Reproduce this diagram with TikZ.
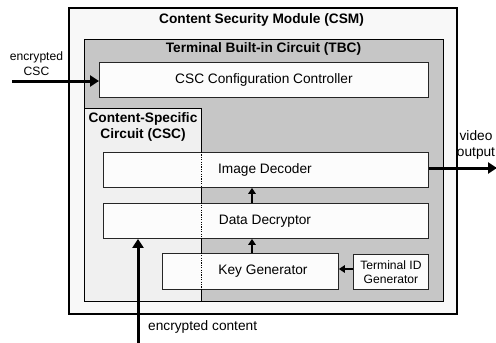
\documentclass[tikz,border=0pt]{standalone}
\usepackage{fontspec}
\setmainfont{Liberation Sans}
\usetikzlibrary{arrows.meta}
\definecolor{csmfill}{HTML}{F8F8F8}
\definecolor{tbcfill}{HTML}{C6C6C6}
\definecolor{cscfill}{HTML}{F0F0F0}
\definecolor{boxfill}{HTML}{FCFCFC}
\tikzset{
  region/.style={draw=black, anchor=north west, inner sep=0pt},
  blk/.style={draw=black!85, fill=boxfill, line width=0.9pt, anchor=north west, inner sep=0pt},
  txt/.style={font=\fontsize{13.7}{16}\selectfont, inner sep=0pt, align=center},
  smalltxt/.style={font=\fontsize{12.1}{14.5}\selectfont, inner sep=0pt, align=center},
  title/.style={font=\fontsize{13.7}{16}\selectfont\bfseries, inner sep=0pt, align=center},
  bigarr/.style={line width=3pt, -{Triangle[length=9pt,width=11pt]}},
  smallarr/.style={line width=2.2pt, -{Triangle[length=6pt,width=7.5pt]}},
}
\begin{document}
\begin{tikzpicture}[x=1pt,y=-1pt]
\useasboundingbox (0,0) rectangle (496,343);
% CSM
\node[region, fill=csmfill, line width=1.8pt, minimum width=388pt, minimum height=306pt] (csm) at (68,7) {};
\node[title] (csmt) at (261.5,20) {Content Security Module (CSM)};
% TBC
\node[region, fill=tbcfill, line width=1.3pt, minimum width=359pt, minimum height=262pt] (tbc) at (84,39) {};
\node[title] (tbct) at (263.5,49) {Terminal Built-in Circuit (TBC)};
% CSC
\node[region, fill=cscfill, line width=1pt, minimum width=117pt, minimum height=193pt] (csc) at (84,108) {};
\node[title] (csct) at (143,127) {Content-Specific\\Circuit (CSC)};
% blocks
\node[blk, minimum width=329pt, minimum height=35pt] (ccc) at (99,62) {};
\node[txt] at (ccc.center) {CSC Configuration Controller};
\node[blk, minimum width=325pt, minimum height=35pt] (idec) at (103,152) {};
\node[txt] at ([xshift=-1pt]idec.center) {Image Decoder};
\node[blk, minimum width=325pt, minimum height=35pt] (ddec) at (103,203) {};
\node[txt] at ([xshift=-1pt]ddec.center) {Data Decryptor};
\node[blk, minimum width=176pt, minimum height=36pt] (kgen) at (162,253) {};
\node[txt] (kgt) at (263,271) {Key Generator};
\node[blk, minimum width=75pt, minimum height=35pt] (tid) at (353,254) {};
\node[smalltxt] at (tid.center) {Terminal ID\\Generator};
% dotted boundary of CSC across the blocks
\coordinate (dtop) at (201,152);
\coordinate (dbot) at (201,289);
\draw[black, line width=0.6pt, dash pattern=on 1.2pt off 1.2pt] (dtop) -- (dbot);
% internal arrows
\coordinate (ax) at (252,0);
\draw[smallarr] (ddec.north -| ax) -- (idec.south -| ax);
\draw[smallarr] (kgen.north -| ax) -- (ddec.south -| ax);
\draw[smallarr] (tid.west |- 0,269) -- (kgen.east |- 0,269);
% external arrows
\coordinate (cscin) at (12,81);
\draw[bigarr] (cscin) -- (ccc.west |- cscin);
\node[smalltxt] (cscl) at (36.5,63.5) {encrypted\\CSC};
\coordinate (vout) at (497,168);
\draw[bigarr] (idec.east |- vout) -- (vout);
\node[txt] (voutl) at (476,144.5) {video\\output};
\coordinate (cin) at (138,345);
\draw[bigarr] (cin) -- (ddec.south -| cin);
\node[txt, anchor=west] (cinl) at (148,327) {encrypted content};
\end{tikzpicture}
\end{document}
